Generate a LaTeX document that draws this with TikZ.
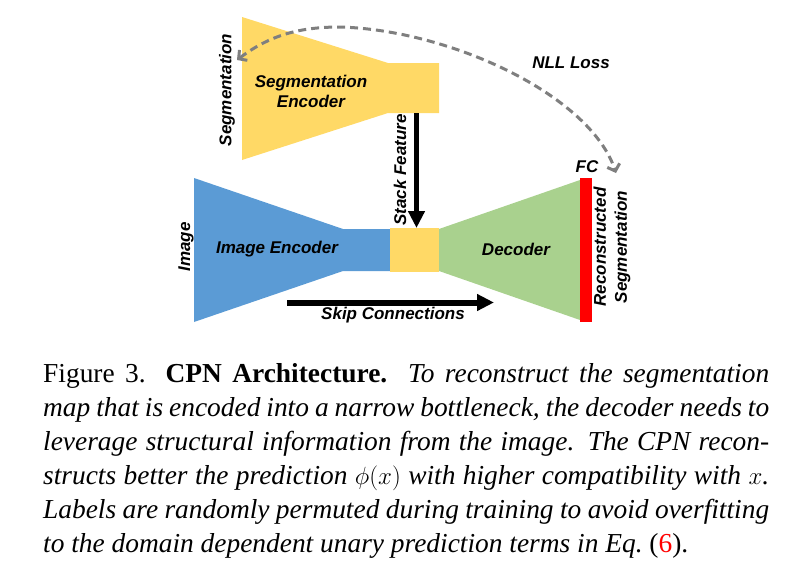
\documentclass[tikz,border=0pt]{standalone}
\usepackage{fontspec}
\setmainfont{Liberation Serif}
\newfontfamily\labelfont{Liberation Sans}
\usepackage{amsmath}
\usepackage{xcolor}
\usetikzlibrary{arrows.meta}
\definecolor{encblue}{HTML}{5B9BD5}
\definecolor{encyellow}{HTML}{FFD966}
\definecolor{decgreen}{HTML}{A9D18E}
\definecolor{fcred}{HTML}{FF0000}
\definecolor{lossgray}{HTML}{7F7F7F}
\newcommand{\fullline}[1]{\makebox[726pt][s]{#1}}

\begin{document}
\begin{tikzpicture}[x=1pt,y=-1pt,
 lbl/.style={font=\labelfont\fontsize{17}{20}\selectfont\bfseries\itshape, inner sep=0, align=center},
 capline/.style={anchor=base west, inner sep=0, font=\fontsize{27.4}{34}\selectfont},
 fatarrow/.style={black, line width=#1, -{Triangle[length=17pt,width=16pt]}},
 lossarc/.style={lossgray, line width=3pt, dash pattern=on 8pt off 5pt, <->, >={Straight Barb[length=6pt,width=13pt]}}]
\useasboundingbox (0,0) rectangle (812,563);
\fill[encyellow] (242,17)--(388,63)--(439,63)--(439,113)--(388,113)--(242,160)--cycle;
\fill[encblue] (194,178)--(343,229)--(390,229)--(390,271)--(343,271)--(194,322)--cycle;
\fill[encyellow] (390,228) rectangle (439,272);
\fill[decgreen] (439,229)--(580,180)--(580,320)--(439,271)--cycle;
\fill[fcred] (580,178) rectangle (592,322);
\node[lbl, rotate=90] (seglbl) at (227,90) {Segmentation};
\node[lbl] (segenc) at (311,91) {Segmentation\\Encoder};
\node[lbl, rotate=90] (stacklbl) at (400,170) {Stack Feature};
\node[lbl, rotate=90] (imglbl) at (186,247) {Image};
\node[lbl] (imgenc) at (277,249) {Image Encoder};
\node[lbl] (declbl) at (516,249) {Decoder};
\node[lbl] (skiplbl) at (393,315) {Skip Connections};
\node[lbl] (fclbl) at (587,167) {FC};
\node[lbl, rotate=90, font=\labelfont\fontsize{17}{21}\selectfont\bfseries\itshape] (reclbl) at (612,247) {Reconstructed\\Segmentation};
\node[lbl] (losslbl) at (571,63) {NLL Loss};
\coordinate (stacktop) at (416.5,113);
\coordinate (stackend) at (416.5,228);
\coordinate (skipstart) at (287,302.5);
\coordinate (skipend) at (494,302.5);
\coordinate (segin) at (237,60);
\coordinate (fcin) at (616,173);
\draw[fatarrow=5pt] (stacktop) -- (stackend);
\draw[fatarrow=6pt] (skipstart) -- (skipend);
\draw[lossarc] (segin) .. controls (270,35) and (300,27) .. (340,27) .. controls (450,30) and (590,95) .. (fcin);
\foreach \n/\txt in {
 0/{\fullline{Figure 3. \textbf{CPN Architecture.}\ \ \textit{To reconstruct the segmentation}}},
 1/{\fullline{\textit{map that is encoded into a narrow bottleneck, the decoder needs to}}},
 2/{\fullline{\textit{leverage structural information from the image. The CPN recon-}}},
 3/{\fullline{\textit{structs better the prediction $\phi(x)$ with higher compatibility with $x$.}}},
 4/{\fullline{\textit{Labels are randomly permuted during training to avoid overfitting}}},
 5/{\textit{to the domain dependent unary prediction terms in Eq.}~(\textcolor{red}{6}).}}
 \node[capline] (cap\n) at (43,{382+34*\n}) {\txt};
\end{tikzpicture}
\end{document}
